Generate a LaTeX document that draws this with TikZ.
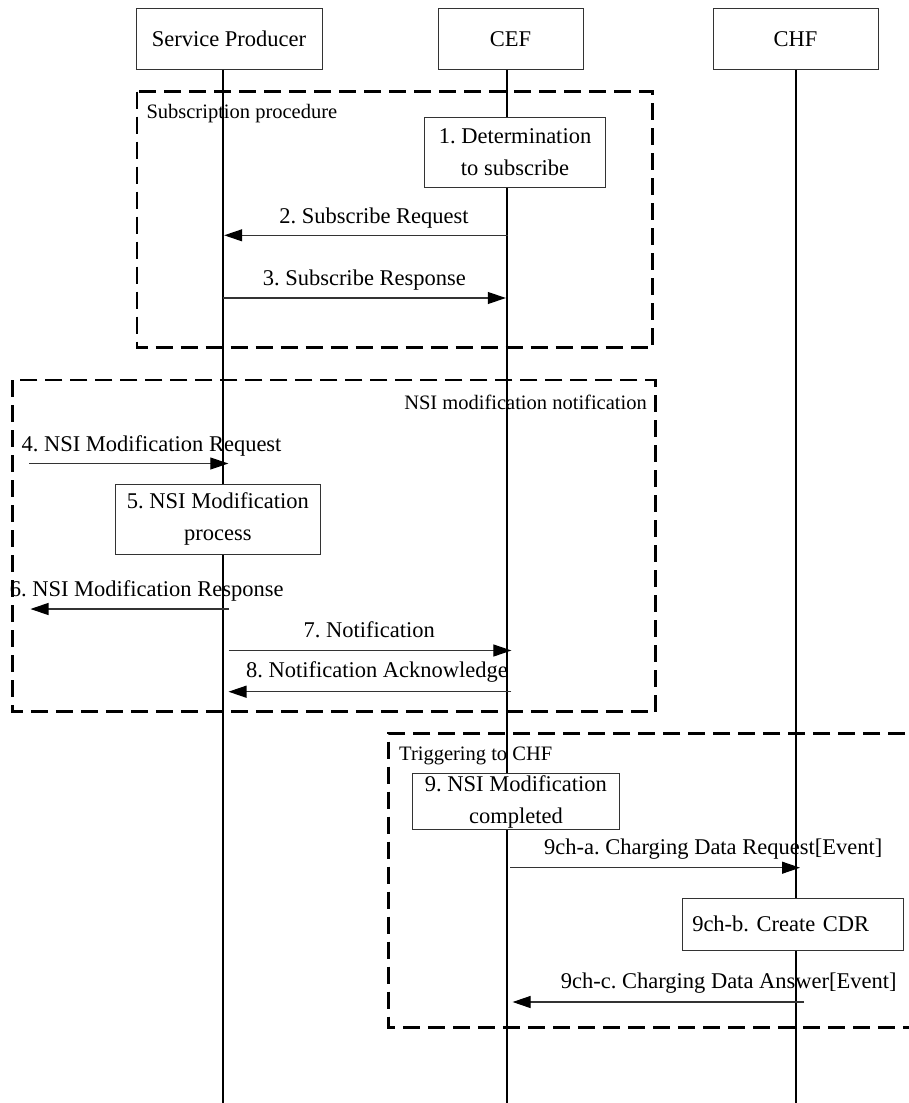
\documentclass[tikz,border=0pt]{standalone}
\usepackage{fontspec}
\setmainfont{Liberation Serif}
\usetikzlibrary{arrows.meta}
\frenchspacing
\newcommand{\mainfs}{\fontsize{22.5}{32}\selectfont}
\newcommand{\grpfs}{\fontsize{20.5}{24}\selectfont}
\tikzset{
  hdr/.style={draw=black!80, line width=0.9pt, fill=white, inner sep=0pt, font=\mainfs},
  pbox/.style={draw=black!80, line width=0.9pt, fill=white, inner sep=0pt, align=center, font=\mainfs},
  life/.style={line width=1.4pt, black},
  msg/.style={line width=1.1pt, black!80, -{Triangle[length=18pt,width=12pt,fill=black,color=black]}},
  lbl/.style={anchor=base, inner sep=0pt, font=\mainfs},
  grp/.style={inner sep=0pt, font=\grpfs},
  frame/.style={line width=2.6pt, black, dash pattern=on 17pt off 8pt}
}
\begin{document}
\begin{tikzpicture}[x=1pt,y=-1pt]
\clip (0,0) rectangle (909,1103);
\fill[white] (0,0) rectangle (909,1103);

% header boxes
\node[hdr, minimum width=186pt, minimum height=61pt] (sp) at (229,38.8) {Service Producer};
\node[hdr, minimum width=145pt, minimum height=61pt] (cef) at (510.5,38.8) {CEF};
\node[hdr, minimum width=165pt, minimum height=61pt] (chf) at (795.5,38.8) {CHF};

% lifeline ends
\coordinate (spEnd) at (223,1103);
\coordinate (cefEnd) at (507,1103);
\coordinate (chfEnd) at (796,1103);
\draw[life] (sp.south -| spEnd) -- (spEnd);
\draw[life] (cef.south -| cefEnd) -- (cefEnd);
\draw[life] (chf.south -| chfEnd) -- (chfEnd);

% group frames
\draw[frame] (136.8,91.5) rectangle (652.5,347.7);
\draw[frame] (12.5,380) rectangle (655.7,711.7);
\draw[frame] (930,733.3) -- (388.4,733.3) -- (388.4,1027.3) -- (930,1027.3);
\node[grp, anchor=base west] (g1) at (146.3,118.3) {Subscription procedure};
\node[grp, anchor=base east] (g2) at (647,409.3) {NSI modification notification};
\node[grp, anchor=base west] (g3) at (399,760.7) {Triggering to CHF};

% process boxes
\node[pbox, minimum width=181pt, minimum height=69.6pt] (b1) at (515,152.5) {1. Determination\\to subscribe};
\node[pbox, minimum width=204.3pt, minimum height=69.8pt] (b5) at (217.9,519.1) {5. NSI Modification\\process};
\node[pbox, minimum width=207pt, minimum height=56pt] (b9) at (515.9,801.6) {9. NSI Modification\\completed};
\node[pbox, text width=201.5pt, align=left, inner xsep=9.5pt, minimum height=51.5pt] (b9b) at (793,924.3) {9ch-b. Create CDR};

% message end points
\coordinate (m2a) at (507.6,235.3); \coordinate (m2b) at (224.2,235.3);
\coordinate (m3a) at (222.8,298);   \coordinate (m3b) at (505.8,298);
\coordinate (m4a) at (29.4,463.5);  \coordinate (m4b) at (228.3,463.5);
\coordinate (m6a) at (229,609);     \coordinate (m6b) at (30.5,609);
\coordinate (m7a) at (228.5,650.5); \coordinate (m7b) at (511.4,650.5);
\coordinate (m8a) at (511.4,691.7); \coordinate (m8b) at (228.5,691.7);
\coordinate (m9a) at (510,867.7);   \coordinate (m9b) at (800,867.7);
\coordinate (m9c) at (804,1002);    \coordinate (m9d) at (512.6,1002);

\draw[msg] (m2a) -- (m2b);
\draw[msg] (m3a) -- (m3b);
\draw[msg] (m4a) -- (m4b);
\draw[msg] (m6a) -- (m6b);
\draw[msg] (m7a) -- (m7b);
\draw[msg] (m8a) -- (m8b);
\draw[msg] (m9a) -- (m9b);
\draw[msg] (m9c) -- (m9d);

% message labels
\node[lbl] (l2) at (374,223.3) {2. Subscribe Request};
\node[lbl] (l3) at (364.3,285) {3. Subscribe Response};
\node[lbl] (l4) at (151.5,451) {4. NSI Modification Request};
\node[lbl] (l6) at (146.7,596.7) {6. NSI Modification Response};
\node[lbl] (l7) at (369.3,637.3) {7. Notification};
\node[lbl] (l8) at (377,677.7) {8. Notification Acknowledge};
\node[lbl] (l9a) at (713.2,854) {9ch-a. Charging Data Request[Event]};
\node[lbl] (l9c) at (728.7,988.3) {9ch-c. Charging Data Answer[Event]};
\end{tikzpicture}
\end{document}
